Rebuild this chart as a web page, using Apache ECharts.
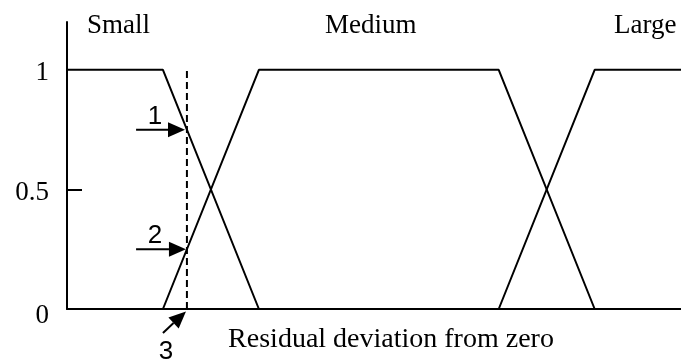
<!DOCTYPE html>
<html lang="en">
<head>
  <meta charset="UTF-8">
  <title>Membership functions</title>
  <script src="https://cdn.jsdelivr.net/npm/echarts@6/dist/echarts.min.js"></script>
</head>
<style>
  * {
    padding: 0px;
    margin: 0px;
  }
  #main {
    width: 681px;
    height: 359px;
  }
</style>
<body>
<div id="main"></div>
<script>
  // membership functions, x in "deviation" units, y = membership degree
  var smallSet = [[0, 1], [1, 1], [2, 0]];
  var mediumSet = [[1, 0], [2, 1], [4.5, 1], [5.5, 0]];
  var largeSet = [[4.5, 0], [5.5, 1], [6.4, 1]];
  var cutLine = [[1.25, 0], [1.25, 1]];
  // arrows: [x0, y0, x1, y1]
  var arrows = [[0.72, 0.75, 1.23, 0.75], [0.72, 0.25, 1.24, 0.25], [1.0, -0.1, 1.24, -0.01]];
  var arrowLabels = ['1', '2', '3'];
  var setNames = ['Small', 'Medium', 'Large'];
  var yTicks = [0, 0.5, 1];
  var xTitle = 'Residual deviation from zero';

  var serif = '"Liberation Serif", "Times New Roman", serif';
  var myChart = echarts.init(document.getElementById('main'));

  function renderArrow(params, api) {
    var p0 = api.coord([api.value(0), api.value(1)]);
    var p1 = api.coord([api.value(2), api.value(3)]);
    var ang = Math.atan2(p1[1] - p0[1], p1[0] - p0[0]);
    var len = 17, hw = 7.5;
    var bx = p1[0] - len * Math.cos(ang);
    var by = p1[1] - len * Math.sin(ang);
    var nx = -Math.sin(ang) * hw;
    var ny = Math.cos(ang) * hw;
    var flat = Math.abs(p1[1] - p0[1]) < 1;
    return {
      type: 'group',
      children: [
        {type: 'line', shape: {x1: p0[0], y1: p0[1], x2: bx, y2: by}, style: {stroke: '#000', lineWidth: 2}},
        {type: 'polygon', shape: {points: [[p1[0], p1[1]], [bx + nx, by + ny], [bx - nx, by - ny]]}, style: {fill: '#000'}},
        {
          type: 'text',
          x: p0[0] + (flat ? 19 : 3),
          y: p0[1] + (flat ? -13 : 19),
          style: {
            text: arrowLabels[params.dataIndex],
            font: '26px "Liberation Sans", Arial, sans-serif',
            fill: '#000',
            align: 'center',
            verticalAlign: 'middle'
          }
        }
      ]
    };
  }

  var nameLeft = [87, 325, 614];
  var titles = setNames.map(function (n, i) {
    return {
      text: n,
      left: nameLeft[i],
      top: 12,
      padding: 0,
      textStyle: {fontFamily: serif, fontSize: 27, fontWeight: 'normal', color: '#000'}
    };
  });

  function memberLine(name, data, dashed) {
    return {
      name: name,
      type: 'line',
      data: data,
      symbol: 'none',
      silent: true,
      lineStyle: {color: '#000', width: 2, type: dashed ? [7, 4] : 'solid'}
    };
  }

  myChart.setOption({
    backgroundColor: '#fff',
    animation: false,
    title: titles,
    grid: {left: 67, right: 0, top: 22, bottom: 50},
    xAxis: {
      type: 'value',
      min: 0,
      max: 6.4,
      axisLine: {lineStyle: {color: '#000', width: 2}},
      axisTick: {show: false},
      axisLabel: {show: false},
      splitLine: {show: false},
      name: xTitle,
      nameLocation: 'middle',
      nameGap: 17,
      nameTextStyle: {fontFamily: serif, fontSize: 28, color: '#000', padding: [0, 0, 0, 34]}
    },
    yAxis: {
      type: 'value',
      min: 0,
      max: 1.2,
      interval: 0.5,
      axisLine: {show: true, lineStyle: {color: '#000', width: 2}},
      axisTick: {show: true, inside: true, length: 15, lineStyle: {color: '#000', width: 2}, customValues: [0.5]},
      splitLine: {show: false},
      axisLabel: {
        customValues: yTicks,
        margin: 18,
        fontFamily: serif,
        fontSize: 27,
        color: '#000',
        formatter: function (v) {
          return v === 0 ? '{z|0}' : '{n|' + v + '}';
        },
        rich: {
          z: {fontFamily: serif, fontSize: 27, color: '#000', padding: [14, 0, 0, 0]},
          n: {fontFamily: serif, fontSize: 27, color: '#000', padding: [6, 0, 0, 0]}
        }
      }
    },
    series: [
      memberLine('Small', smallSet),
      memberLine('Medium', mediumSet),
      memberLine('Large', largeSet),
      memberLine('cut', cutLine, true),
      {
        type: 'custom',
        renderItem: renderArrow,
        data: arrows,
        encode: {x: [0, 2], y: [1, 3]},
        silent: true
      }
    ]
  });
</script>
</body>
</html>
